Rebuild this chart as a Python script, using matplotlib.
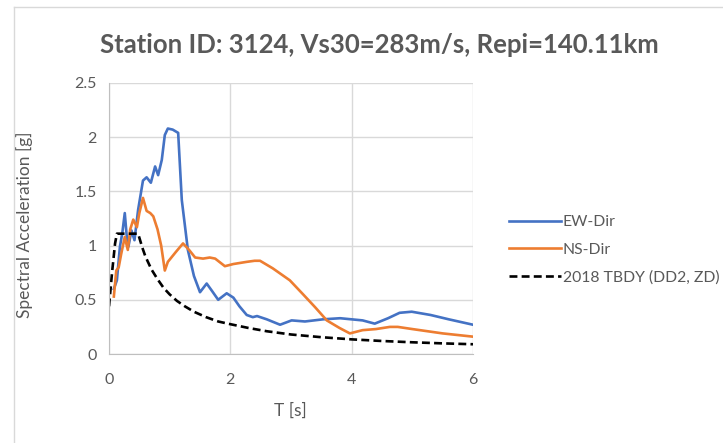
import numpy as np
import matplotlib.pyplot as plt
from matplotlib.lines import Line2D

# EW component
t_ew = [0.08, 0.13, 0.18, 0.22, 0.26, 0.29, 0.32, 0.37, 0.42, 0.48, 0.56, 0.62, 0.69, 0.76,
        0.81, 0.87, 0.92, 0.97, 1.05, 1.14, 1.20, 1.30, 1.40, 1.50, 1.61, 1.70, 1.80, 1.94,
        2.05, 2.15, 2.27, 2.37, 2.44, 2.60, 2.82, 3.01, 3.23, 3.53, 3.81, 4.18, 4.38, 4.60,
        4.79, 4.99, 5.30, 5.60, 6.00]
sa_ew = [0.60, 0.68, 0.99, 1.12, 1.30, 1.10, 0.99, 1.14, 1.05, 1.33, 1.60, 1.63, 1.58, 1.73,
         1.65, 1.79, 2.02, 2.08, 2.07, 2.04, 1.42, 0.96, 0.72, 0.57, 0.65, 0.58, 0.50, 0.56,
         0.52, 0.44, 0.36, 0.34, 0.35, 0.32, 0.27, 0.31, 0.30, 0.32, 0.33, 0.31, 0.28, 0.33,
         0.38, 0.39, 0.36, 0.32, 0.27]

# NS component
t_ns = [0.08, 0.12, 0.16, 0.20, 0.23, 0.26, 0.31, 0.35, 0.40, 0.46, 0.50, 0.56, 0.62, 0.68,
        0.73, 0.80, 0.86, 0.92, 0.97, 1.10, 1.22, 1.32, 1.42, 1.55, 1.66, 1.75, 1.91, 2.05,
        2.16, 2.27, 2.40, 2.49, 2.70, 2.98, 3.20, 3.40, 3.59, 3.80, 3.97, 4.18, 4.40, 4.63,
        4.76, 5.00, 5.50, 6.00]
sa_ns = [0.53, 0.77, 0.80, 0.92, 1.00, 1.08, 0.96, 1.15, 1.24, 1.17, 1.30, 1.44, 1.32, 1.30,
         1.27, 1.15, 1.00, 0.77, 0.85, 0.94, 1.02, 0.96, 0.89, 0.88, 0.89, 0.88, 0.81, 0.83,
         0.84, 0.85, 0.86, 0.86, 0.79, 0.68, 0.55, 0.43, 0.31, 0.24, 0.19, 0.22, 0.23, 0.25,
         0.25, 0.23, 0.19, 0.16]

# 2018 TBDY design spectrum (DD2, ZD)
t_tb = [0.0, 0.05, 0.10, 0.13, 0.20, 0.30, 0.40, 0.48, 0.55, 0.60, 0.70, 0.80, 0.90, 1.00,
        1.12, 1.25, 1.40, 1.60, 1.80, 2.00, 2.30, 2.60, 3.00, 3.50, 4.00, 4.50, 5.00, 5.50, 6.00]
sa_tb = [0.44, 0.75, 1.02, 1.11, 1.11, 1.11, 1.11, 1.11, 0.98, 0.90, 0.78, 0.69, 0.61, 0.55,
         0.49, 0.44, 0.39, 0.34, 0.30, 0.275, 0.24, 0.21, 0.18, 0.155, 0.135, 0.12, 0.108, 0.098, 0.09]

labels = ['EW-Dir', 'NS-Dir', '2018 TBDY (DD2, ZD)']

plt.rcParams['font.family'] = ['Lato', 'DejaVu Sans']

fig = plt.figure(figsize=(7.23, 4.43), dpi=100)
ax = fig.add_axes([109/723, 1 - 354/443, (473 - 109)/723, (354 - 83)/443])

ax.plot(t_ew, sa_ew, color='#4472C4', lw=1.9, label=labels[0])
ax.plot(t_ns, sa_ns, color='#ED7D31', lw=1.9, label=labels[1])
ax.plot(t_tb, sa_tb, color='black', lw=1.9, ls=(0, (3, 1.6)), label=labels[2])

ax.set_xlim(0, 6)
ax.set_ylim(0, 2.5)
ax.set_xticks([0, 2, 4, 6])
ax.set_yticks([0, 0.5, 1, 1.5, 2, 2.5])
ax.set_yticklabels(['0', '0.5', '1', '1.5', '2', '2.5'])
ax.grid(True, color='#D9D9D9', lw=1)
ax.set_axisbelow(True)
for s in ['top', 'right']:
    ax.spines[s].set_visible(False)
for s in ['left', 'bottom']:
    ax.spines[s].set_color('#BFBFBF')
ax.tick_params(length=0, colors='#595959', labelsize=11.5)
ax.tick_params(axis='y', pad=9)
ax.tick_params(axis='x', pad=14)
ax.set_xlabel('T [s]', color='#595959', fontsize=12.5)
ax.set_ylabel('Spectral Acceleration [g]', color='#595959', fontsize=12.5)
ax.xaxis.set_label_coords(0.497, -0.21)
ax.yaxis.set_label_coords(-0.231, 0.476)
ax.xaxis.label.set_va('center')
ax.yaxis.label.set_va('center')

fig.text(379/723, 1 - 45/443, 'Station ID: 3124, Vs30=283m/s, Repi=140.11km',
         ha='center', va='center', fontsize=18.5, color='#595959', fontweight='bold')

leg = ax.legend(loc='center left', bbox_to_anchor=(509/723, 1 - 250/443),
                bbox_transform=fig.transFigure, frameon=False, fontsize=11.3,
                labelspacing=0.85, handlelength=3.3, handletextpad=0.12,
                borderpad=0, borderaxespad=0)
for t in leg.get_texts():
    t.set_color('#595959')

# chart area border (only left/top visible in the crop)
fig.add_artist(Line2D([14/723, 14/723], [0, 1 - 7/443], transform=fig.transFigure,
                      color='#D9D9D9', lw=1))
fig.add_artist(Line2D([14/723, 1], [1 - 7/443, 1 - 7/443], transform=fig.transFigure,
                      color='#D9D9D9', lw=1))

fig.savefig('out.png', dpi=100)
